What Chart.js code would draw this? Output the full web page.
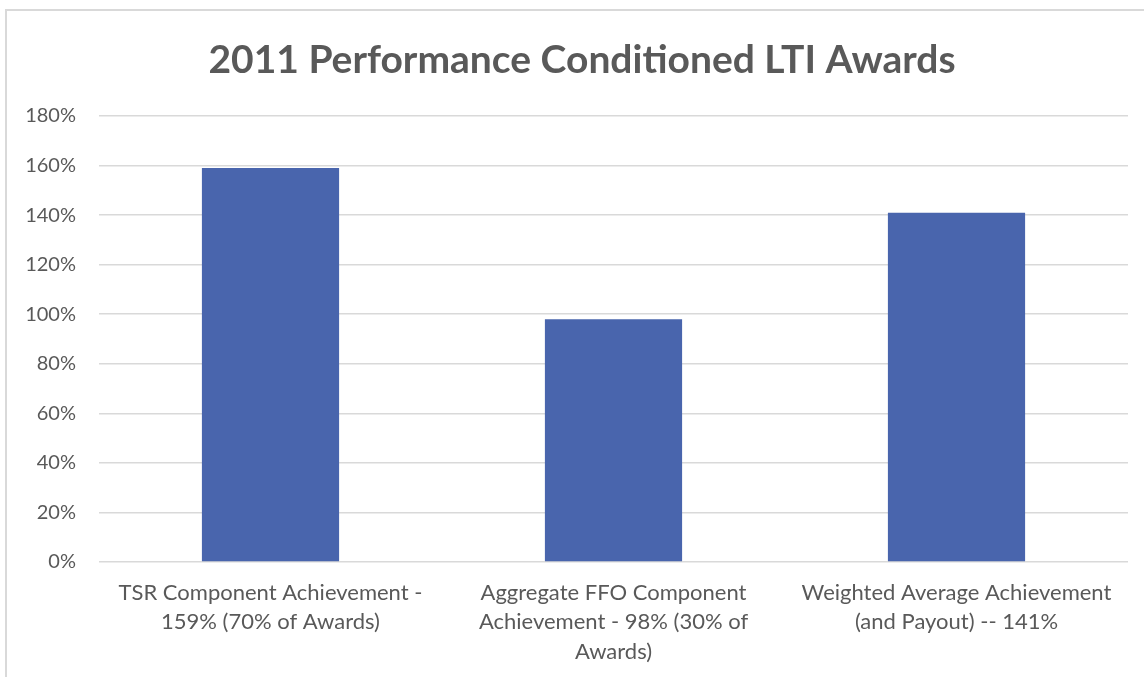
<!DOCTYPE html>
<html>
<head>
<meta charset="utf-8">
<script src="https://cdn.jsdelivr.net/npm/chart.js@4.4.0/dist/chart.umd.min.js"></script>
<style>
  html, body { margin: 0; padding: 0; background: #fff; width: 1144px; height: 677px; overflow: hidden; }
  #frame { position: absolute; left: 5px; top: 9px; width: 1200px; height: 720px; border: 2px solid #d9d9d9; box-sizing: border-box; }
  #c { position: absolute; left: 0; top: 0; }
</style>
</head>
<body>
<div id="frame"></div>
<canvas id="c" width="1144" height="677"></canvas>
<script>
const categories = [
  ["TSR Component Achievement -", "159% (70% of Awards)"],
  ["Aggregate FFO Component", "Achievement - 98% (30% of", "Awards)"],
  ["Weighted Average Achievement", "(and Payout) -- 141%"]
];
const achievement = [159, 98, 141];
const yTicks = [0, 20, 40, 60, 80, 100, 120, 140, 160, 180];
const titleText = "2011 Performance Conditioned LTI Awards";

const FONT = "Lato, 'Open Sans', sans-serif";
const TXT = "#595959";

new Chart(document.getElementById('c'), {
  type: 'bar',
  data: {
    labels: categories,
    datasets: [{
      data: achievement,
      backgroundColor: '#4965ad',
      borderWidth: 0,
      categoryPercentage: 0.8,
      barPercentage: 0.5
    }]
  },
  options: {
    responsive: false,
    animation: false,
    // the original chart frame is wider than the visible crop, so the title is centred further right
    layout: { padding: { left: 0, right: -20, top: 0, bottom: 0 } },
    plugins: {
      legend: { display: false },
      tooltip: { enabled: false },
      title: {
        display: true,
        text: titleText,
        color: TXT,
        font: { family: FONT, size: 39, weight: 'bold', lineHeight: 1.0 },
        padding: { top: 41, bottom: 36 }
      }
    },
    scales: {
      x: {
        grid: { display: false, drawTicks: false },
        border: { display: false },
        ticks: {
          color: TXT,
          font: { family: FONT, size: 22, lineHeight: 1.336 },
          padding: 16,
          maxRotation: 0,
          autoSkip: false
        },
        afterFit: s => { s.height = 115; }
      },
      y: {
        min: 0,
        max: 180,
        afterBuildTicks: s => { s.ticks = yTicks.map(v => ({ value: v })); },
        grid: { color: '#d9d9d9', lineWidth: 1.5, drawTicks: false },
        border: { display: false },
        ticks: {
          color: TXT,
          font: { family: FONT, size: 20 },
          padding: 23,
          callback: v => v + '%'
        },
        afterFit: s => { s.width = 99; }
      },
      yRight: {
        position: 'right',
        min: 0,
        max: 180,
        grid: { display: false, drawTicks: false },
        border: { display: false },
        ticks: { display: false },
        afterFit: s => { s.width = 36; }
      }
    }
  }
});
</script>
</body>
</html>
